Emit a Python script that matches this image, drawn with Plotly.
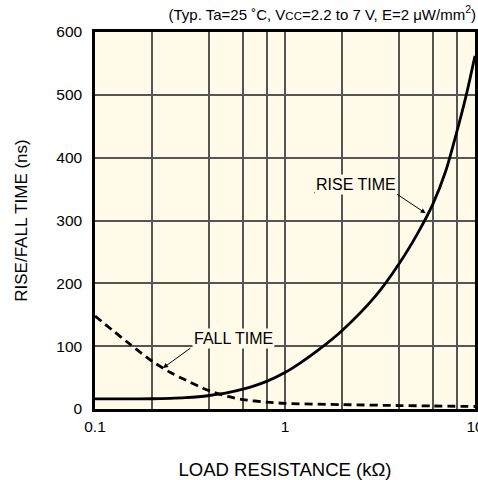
import plotly.graph_objects as go

# Data
load_kohm_rise = [0.1, 0.15, 0.2, 0.25, 0.3, 0.35, 0.4, 0.5, 0.6, 0.8, 1.0, 1.2, 1.5, 2.0, 3.0, 4.0, 5.0, 6.0, 7.0, 8.0, 9.0, 10.0]
rise_ns = [16, 16, 16.3, 17, 18, 19.5, 21.5, 26, 31.5, 44, 58, 73, 94, 125, 180, 232, 280, 326, 378, 440, 500, 562]

load_kohm_fall = [0.1, 0.15, 0.2, 0.25, 0.3, 0.4, 0.5, 0.6, 0.8, 1.0, 2.0, 4.0, 6.0, 10.0]
fall_ns = [148, 105, 76, 58, 46, 29, 20, 15, 11, 9, 7, 5.5, 4.8, 4]

x_tick_vals = [0.1, 1, 10]
x_tick_text = ["0.1", "1", "10"]
x_minor_grid = [0.2, 0.4, 0.6, 0.8, 2, 4, 6, 8]
y_tick_vals = [0, 100, 200, 300, 400, 500, 600]

FONT = "Liberation Sans, Arial, sans-serif"
BG = "#FFFBE8"
GRID = "#555555"

fig = go.Figure()
fig.add_trace(go.Scatter(x=load_kohm_fall, y=fall_ns, mode="lines",
                         line=dict(color="black", width=2.8, dash="8px,5px", shape="spline", smoothing=0.8),
                         hoverinfo="skip", showlegend=False))
fig.add_trace(go.Scatter(x=load_kohm_rise, y=rise_ns, mode="lines",
                         line=dict(color="black", width=2.8, shape="spline", smoothing=0.8),
                         hoverinfo="skip", showlegend=False))

fig.update_layout(
    width=478, height=480,
    margin=dict(l=95, r=3, t=32, b=71),
    paper_bgcolor="white",
    plot_bgcolor=BG,
    font=dict(family=FONT, size=15, color="black"),
    title=dict(text="(Typ. Ta=25 ˚C, V<span style='font-size:11.5px'>CC</span>=2.2 to 7 V, E=2 μW/mm<sup>2</sup>)",
               x=476/478, xanchor="right", xref="container",
               y=1 - 14.5/480, yanchor="middle", yref="container",
               font=dict(family=FONT, size=15, color="black")),
    xaxis=dict(type="log", range=[-1, 1], tickvals=x_tick_vals, ticktext=x_tick_text,
               showgrid=True, gridcolor=GRID, gridwidth=1.5,
               minor=dict(tickvals=x_minor_grid, showgrid=True, gridcolor=GRID, gridwidth=1.5, ticks=""),
               showline=True, linecolor="black", linewidth=2.5, mirror=True,
               ticks="", ticklabelstandoff=2, zeroline=False, automargin=False,
               ticklabeloverflow="allow",
               tickfont=dict(size=15.5),
               title=dict(text="LOAD RESISTANCE (kΩ)", standoff=37, font=dict(size=18.5))),
    yaxis=dict(range=[0, 600], tickvals=y_tick_vals,
               showgrid=True, gridcolor=GRID, gridwidth=1.5,
               showline=True, linecolor="black", linewidth=2.5, mirror=True,
               ticks="", ticklabelstandoff=7, zeroline=False, automargin=False,
               tickfont=dict(size=15.5),
               title=dict(text="RISE/FALL TIME (ns)", standoff=25, font=dict(size=17))),
)

# Leader labels
fig.add_annotation(xref="paper", yref="paper", x=(233-95)/380, y=(409-338)/377,
                   xanchor="center", yanchor="middle",
                   text="FALL TIME", showarrow=False, bgcolor=BG, borderpad=1,
                   font=dict(size=16))
fig.add_annotation(xref="paper", yref="paper", x=(356-95)/380, y=(409-184)/377,
                   xanchor="center", yanchor="middle",
                   text="RISE TIME", showarrow=False, bgcolor=BG, borderpad=1,
                   font=dict(size=16))
# underlines
fig.add_shape(type="line", xref="paper", yref="paper",
              x0=(192.7-95)/380, x1=(275-95)/380, y0=(409-346.7)/377, y1=(409-346.7)/377,
              line=dict(color="black", width=1.2))
fig.add_shape(type="line", xref="paper", yref="paper",
              x0=(314-95)/380, x1=(395.7-95)/380, y0=(409-192.7)/377, y1=(409-192.7)/377,
              line=dict(color="black", width=1.2))
# arrows
fig.add_annotation(xref="paper", yref="paper", x=(163-95)/380, y=(409-368)/377,
                   text="", showarrow=True, ax=29, ay=-21, arrowhead=2, arrowsize=1,
                   arrowwidth=1, arrowcolor="black")
fig.add_annotation(xref="paper", yref="paper", x=(425.7-95)/380, y=(409-213.3)/377,
                   text="", showarrow=True, ax=-30, ay=-20, arrowhead=2, arrowsize=1,
                   arrowwidth=1, arrowcolor="black")

fig.write_html("out.html", config={"displayModeBar": False},
               post_script="document.body.style.margin='0';document.body.style.overflow='hidden';")
